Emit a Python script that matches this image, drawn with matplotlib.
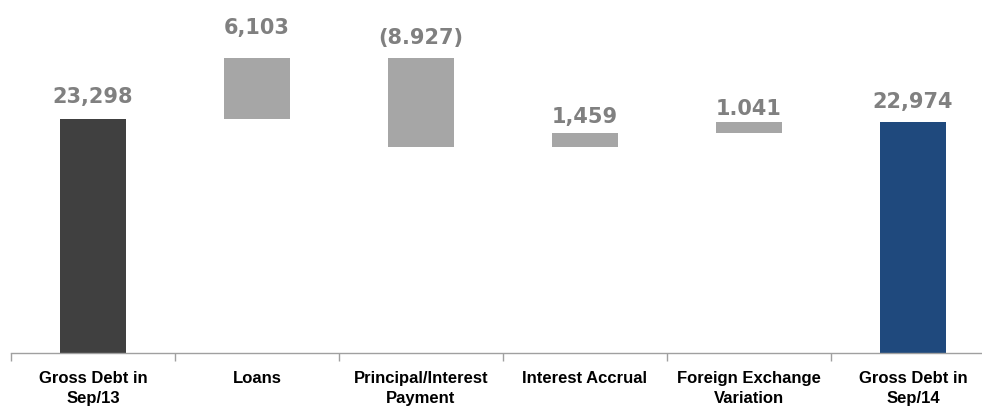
import matplotlib
matplotlib.use("Agg")
from matplotlib import pyplot as plt
import numpy as np

# waterfall data
categories = ["Gross Debt in\nSep/13", "Loans", "Principal/Interest\nPayment",
              "Interest Accrual", "Foreign Exchange\nVariation", "Gross Debt in\nSep/14"]
start_value = 23298
changes = [6103, -8927, 1459, 1041]
end_value = 22974
value_labels = ["23,298", "6,103", "(8.927)", "1,459", "1.041", "22,974"]

# label gap above each bar, in pixels (style, not data)
label_pad = [12, 20, 10, 6, 3, 10]

dark = "#404040"
grey = "#A6A6A6"
blue = "#1F497D"
label_col = "#808080"

# build bottoms/heights from the running total
bottoms = [0]
heights = [start_value]
total = start_value
for c in changes:
    if c >= 0:
        bottoms.append(total)
        heights.append(c)
    else:
        bottoms.append(total + c)
        heights.append(-c)
    total += c
bottoms.append(0)
heights.append(end_value)
colors = [dark] + [grey] * len(changes) + [blue]

fig = plt.figure(figsize=(9.82, 4.12), dpi=100)
ax = fig.add_axes([11 / 982, 59 / 412, 984 / 982, 353 / 412])

x = np.arange(len(categories))
ax.bar(x, heights, bottom=bottoms, width=0.40, color=colors, zorder=2)

ax.set_xlim(-0.5, len(categories) - 0.5)
ax.set_ylim(0, 35150)

for i in range(len(categories)):
    top = bottoms[i] + heights[i]
    ax.annotate(value_labels[i], (x[i], top), xytext=(0, label_pad[i]),
                textcoords="offset pixels", ha="center", va="bottom",
                fontsize=15, fontweight="bold", color=label_col,
                family="DejaVu Sans")

for s in ["top", "right", "left"]:
    ax.spines[s].set_visible(False)
ax.spines["bottom"].set_color("#A0A0A0")
ax.spines["bottom"].set_linewidth(1.0)
ax.set_yticks([])

ax.set_xticks(x)
ax.set_xticklabels(categories, fontsize=12, fontweight="bold",
                   family="Liberation Sans", linespacing=1.45)
ax.tick_params(axis="x", which="major", length=0, pad=13)
ax.set_xticks(np.arange(len(categories) + 1) - 0.5, minor=True)
ax.tick_params(axis="x", which="minor", length=6, color="#A0A0A0", width=1.0)

fig.savefig("out.png", dpi=100)
